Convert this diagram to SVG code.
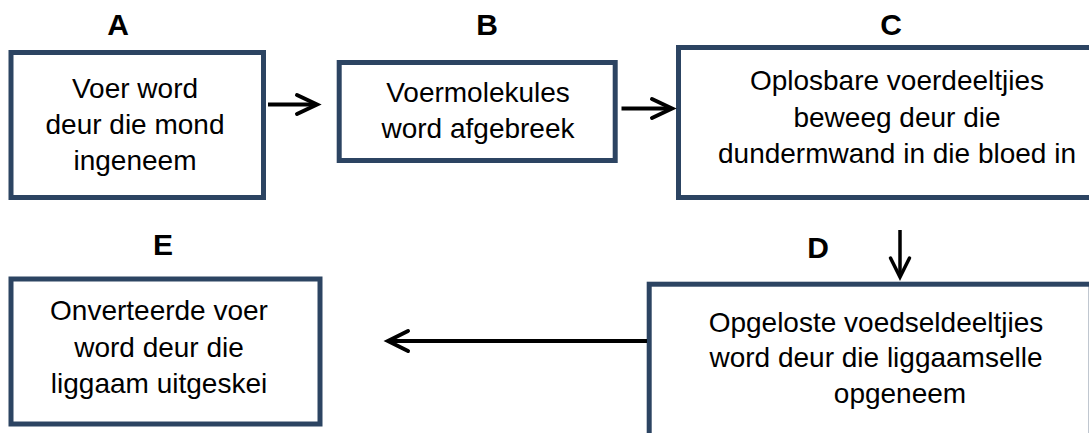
<svg xmlns="http://www.w3.org/2000/svg" width="1089" height="433" viewBox="0 0 1089 433">
<defs>
<style>
.box{fill:#ffffff;stroke:#2C4462;stroke-width:5}
.t{font-family:"Liberation Sans",Arial,sans-serif;font-size:28px;fill:#000000;text-anchor:middle}
.lbl{font-family:"Liberation Sans",Arial,sans-serif;font-size:30px;font-weight:bold;fill:#000000;text-anchor:middle}
.ln{stroke:#000000;stroke-width:4;fill:none}
.hd{stroke:#000000;stroke-width:4;fill:none;stroke-linecap:round;stroke-linejoin:miter}
</style>
</defs>
<rect width="1089" height="433" fill="#ffffff"/>
<g id="nodeA">
<text class="lbl" x="118" y="35">A</text>
<rect class="box" x="11" y="52.5" width="252.5" height="145"/>
<text class="t" x="135" y="97.5">Voer word</text>
<text class="t" x="135" y="133.5">deur die mond</text>
<text class="t" x="135" y="169.5">ingeneem</text>
</g>
<g id="nodeB">
<text class="lbl" x="487" y="35">B</text>
<rect class="box" x="339.2" y="62.5" width="276" height="98"/>
<text class="t" x="478" y="101.5">Voermolekules</text>
<text class="t" x="478" y="138">word afgebreek</text>
</g>
<g id="nodeC">
<text class="lbl" x="891" y="35">C</text>
<rect class="box" x="678.5" y="47.5" width="420" height="150"/>
<text class="t" x="897" y="90">Oplosbare voerdeeltjies</text>
<text class="t" x="897" y="126.5">beweeg deur die</text>
<text class="t" x="897" y="163">dundermwand in die bloed in</text>
</g>
<g id="nodeD">
<text class="lbl" x="818" y="258">D</text>
<rect class="box" x="649.2" y="284.2" width="442" height="170"/>
<text class="t" x="876" y="331.5">Opgeloste voedseldeeltjies</text>
<text class="t" x="876" y="366.5">word deur die liggaamselle</text>
<text class="t" x="900" y="403">opgeneem</text>
</g>
<g id="nodeE">
<text class="lbl" x="163" y="255">E</text>
<rect class="box" x="11" y="279" width="309" height="145"/>
<text class="t" x="159" y="320">Onverteerde voer</text>
<text class="t" x="159" y="356.5">word deur die</text>
<text class="t" x="159" y="393">liggaam uitgeskei</text>
</g>
<g id="connectors">
<line class="ln" x1="268" y1="104.5" x2="316" y2="104.5"/>
<polyline class="hd" points="297,95 317,104.5 297,114"/>
<line class="ln" x1="621.5" y1="108.5" x2="671" y2="108.5"/>
<polyline class="hd" points="652,99 672,108.5 652,118"/>
<line class="ln" x1="900" y1="230" x2="900" y2="276" style="stroke-width:3.5"/>
<polyline class="hd" points="890.5,258 900,277 909.5,258" style="stroke-width:3.5"/>
<line class="ln" x1="647" y1="341" x2="389" y2="341"/>
<polyline class="hd" points="408,331 388,341 408,351"/>
</g>
</svg>
